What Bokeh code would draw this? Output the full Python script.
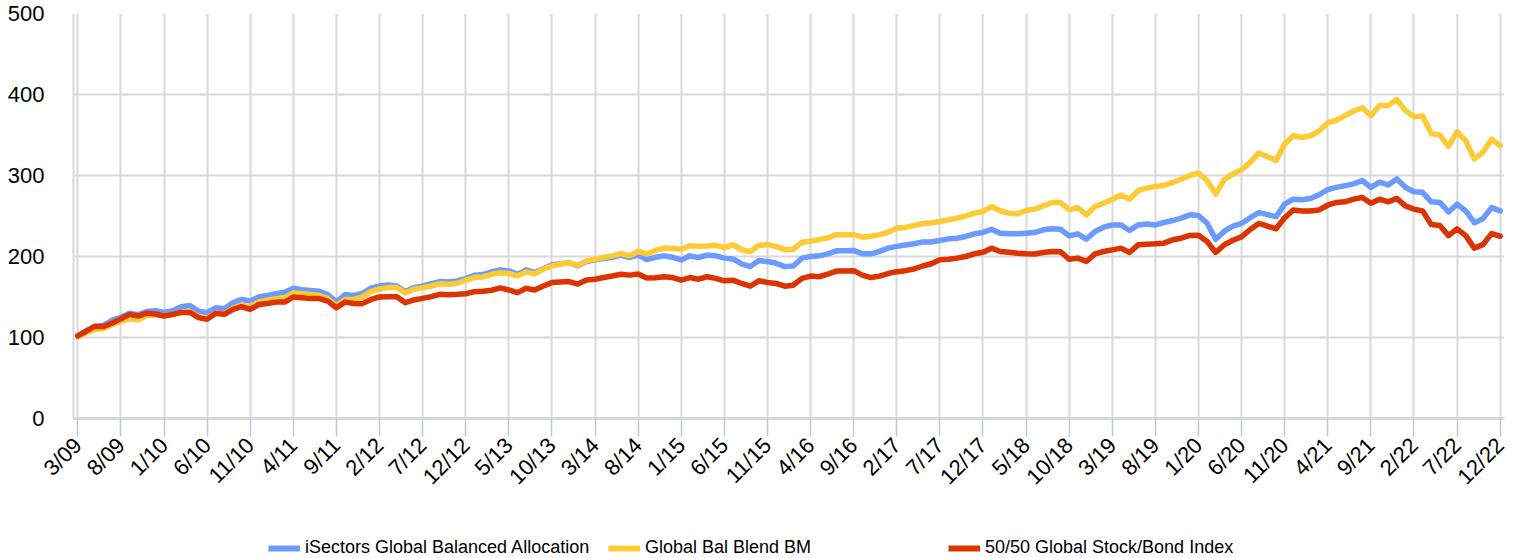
from bokeh.plotting import figure
from bokeh.layouts import column
from bokeh.models import FixedTicker, Range1d, Legend, LegendItem
from bokeh.embed import file_html
from bokeh.resources import INLINE
import math

# ---------------- data ----------------
start_month = 3
start_year = 2009
n_months = 166
months = list(range(n_months))
month_labels = []
for i in months:
    m = (start_month - 1 + i) % 12 + 1
    y = start_year + (start_month - 1 + i) // 12
    month_labels.append(f"{m}/{y % 100:02d}")
tick_months = list(range(0, n_months, 5))

isectors = [102, 108, 113, 115, 121.6, 125, 130, 128, 132, 133, 131, 133, 138, 139.6, 132.6, 130.6, 136.7, 135.5,
            142.9, 147, 145, 150, 151.8, 154, 156, 160.8, 159, 158, 157, 153, 143.7, 153, 152, 154.3,
            161, 163.6, 164.9, 163.6, 156.6, 161.6, 163.6, 166.5, 169, 168.6, 169.8, 172.7, 176.9, 177.7, 181,
            183.5, 182.2, 178, 183.5, 180.2, 185, 189.7, 191, 192.6, 188.4, 193.8, 195.9, 197.5, 199, 201.7,
            198.8, 201.8, 196.3,
            199, 200.8, 199, 195.8, 200.8, 198.8, 201.7, 200.8, 198, 197, 190.8, 187.5, 195, 193.8, 191.7,
            187.5, 188.3, 198, 200, 200.8, 203.3, 207, 207, 207.5, 203.3, 203.3, 206.3, 210.4, 212.5, 214.2,
            215.8, 218, 218,
            219.8, 221.8, 222.6, 224.7, 228, 229.6, 233.7, 228.8, 228, 228, 228.8, 229.6, 233, 234.2, 233.7,
            225.5, 228, 221.4, 230.9, 236.2, 239, 239, 232.1, 239, 240, 239, 242, 244.4, 247.3, 251.4, 250.6,
            241, 221.2,
            231.3, 237.5, 240.8, 247.9, 254.2, 251.7, 249.2, 264.6, 270.8, 270, 271.7, 276.3, 282.5, 285.4,
            287.5, 289.6, 293.8, 285.4, 291.7, 288.3, 295.8, 285.4, 280, 279.2, 267.5, 266.7, 255, 264.6,
            256.3, 241.7, 246.7, 260.4, 256.3]

blend_bm = [101, 106, 110, 111, 116, 120, 123, 122, 127, 128, 127, 128, 131, 132, 126, 124, 130, 129, 136, 140,
            138, 144, 146, 148, 149, 155, 154, 153, 152, 148, 139, 147, 147, 150,
            157, 160, 161.6, 161.6, 155, 159.5, 161.6, 163.6, 166.5, 165.7, 167, 170.7, 174, 174.8, 178, 180,
            179, 176, 181, 178.5, 184.3, 188.4, 190.5, 192.6, 189, 194.6, 196.7, 198.8, 200.8, 203.7, 200.8,
            206.5, 203,
            207.5, 210.4, 210, 209, 213.3, 212.5, 213, 213.8, 211, 214.6, 208.3, 206, 213.8, 214.6, 212.5,
            208.3, 209, 217.5, 218.8, 220.8, 223, 227, 227, 227, 223.8, 225, 227, 230, 235, 235.8, 238.3,
            240.8, 241.3,
            243.2, 245.3, 247.3, 250.2, 253.5, 255.6, 261.7, 256.4, 253.5, 252.7, 256.8, 258.4, 262.5, 266.7,
            266.7, 257.6, 260.5, 251.4, 261.7, 265.8, 270.8, 276, 270.8, 281.5, 284.4, 286.4, 287.7, 291.4,
            295.5, 300, 302.9, 293.8, 277,
            295, 302, 307.3, 316.3, 327.8, 323.3, 318.4, 338.8, 349, 347, 349, 355, 365.3, 368, 374, 379.6,
            383.7, 374, 386.5, 386.5, 393.9, 380.4, 372.6, 373.5, 351.8, 349.8, 335.9, 354.3, 342.9, 320.4,
            328.6, 344.9, 336.7]

stock_bond = [102, 108, 114, 113.5, 118, 123, 128.6, 126.5, 130, 129, 126.5, 128.6, 131, 131, 124.5, 122.4,
              129.8, 128.6, 134.7, 138, 134.7, 140.8, 142, 143.7, 143.7, 150, 149, 148, 148, 145, 136.7, 143.7,
              142, 141.8,
              147, 150, 150.4, 150.4, 143, 146.3, 148.3, 150.4, 153.3, 152.9, 153.3, 154, 156.6, 157, 158.3,
              161.2, 158.7, 155.4, 160.7, 158.7, 163.6, 167.8, 168.6, 169, 166, 171, 172, 174, 176, 178, 177,
              178.4, 173.5,
              173.8, 175, 174, 170.8, 174, 172, 175, 173, 170, 170.8, 166.7, 163.3, 170, 168, 166.7, 163.3,
              164.6, 173, 175.8, 175, 178.3, 182, 182, 182.5, 177, 174, 175.8, 179, 181.3, 182.5, 184.6, 188.3,
              191,
              196, 196.7, 198, 200, 203.3, 205.3, 210.3, 206.2, 205.3, 204, 203.3, 203, 205, 206.2, 205.8,
              196.7, 198, 193.8, 203.3, 206.2, 208.2, 210.3, 205, 214.4, 215.2, 215.6, 216.5, 220.6, 222.6,
              226, 226.3, 218.5, 205,
              214.6, 220, 224.2, 233.3, 240.8, 237.5, 234.2, 247.9, 257.5, 256.3, 256.3, 257.5, 263.3, 266.7,
              267.5, 270.8, 272.9, 265.8, 270.8, 267.5, 271.7, 262.5, 258.3, 256.3, 239.6, 238.3, 225.8, 234.2,
              225.8, 210.4, 214.6, 228.3, 225]

series_names = ["iSectors Global Balanced Allocation", "Global Bal Blend BM", "50/50 Global Stock/Bond Index"]
y_ticks = [0, 100, 200, 300, 400, 500]

# ---------------- styling ----------------
colors = ["#6b9bff", "#ffcb35", "#dd3300"]
FONT = "Liberation Sans"
GRID = "#d9d9d9"
W = 1516

p = figure(width=W, height=528, output_backend="svg", toolbar_location=None,
           x_range=Range1d(-0.5, 165.5), y_range=Range1d(0, 500),
           min_border_left=73, min_border_right=12, min_border_top=13, min_border_bottom=110)
p.outline_line_color = None
p.background_fill_color = "white"

# grids
p.xgrid.ticker = FixedTicker(ticks=tick_months)
p.ygrid.ticker = FixedTicker(ticks=y_ticks)
p.xgrid.grid_line_color = GRID
p.ygrid.grid_line_color = GRID
p.xgrid.grid_line_width = 2
p.ygrid.grid_line_width = 2

# x axis
xa = p.xaxis[0]
xa.ticker = FixedTicker(ticks=tick_months)
xa.major_label_overrides = {i: month_labels[i] for i in tick_months}
xa.major_label_orientation = math.pi / 4
xa.major_label_text_font = FONT
xa.major_label_text_font_size = "22px"
xa.major_label_text_color = "#000000"
xa.axis_line_color = GRID
xa.axis_line_width = 3
xa.major_tick_line_color = "#b8cce4"
xa.major_tick_line_width = 1.5
xa.major_tick_out = 18
xa.major_tick_in = 0
xa.minor_tick_line_color = None
xa.major_label_standoff = 5

# y axis
ya = p.yaxis[0]
ya.ticker = FixedTicker(ticks=y_ticks)
ya.major_label_text_font = FONT
ya.major_label_text_font_size = "22px"
ya.major_label_text_color = "#000000"
ya.major_label_standoff = 29
ya.axis_line_color = GRID
ya.axis_line_width = 2
ya.major_tick_line_color = None
ya.major_tick_out = 0
ya.major_tick_in = 0
ya.minor_tick_line_color = None

for vals, c in zip([isectors, blend_bm, stock_bond], colors):
    p.line(months, vals, line_color=c, line_width=5.5, line_join="round", line_cap="round")

# legend strip (own small figure, frame aligned with the main one)
lg = figure(width=W, height=30, output_backend="svg", toolbar_location=None,
            x_range=Range1d(0, 1), y_range=Range1d(0, 1), x_axis_type=None, y_axis_type=None,
            min_border_left=0, min_border_right=0, min_border_top=0, min_border_bottom=0)
lg.outline_line_color = None
lg.xgrid.visible = False
lg.ygrid.visible = False
# swatch renderers: points lie outside the strip's ranges, so only the legend shows them
swatches = [lg.line([5, 6], [5, 6], line_color=c, line_width=6) for c in colors]
legend = Legend(items=[LegendItem(label=n, renderers=[r]) for n, r in zip(series_names, swatches)],
                orientation="horizontal", location=(195, 0),
                glyph_width=32, glyph_height=20, label_standoff=5, label_width=293, spacing=10,
                label_text_font=FONT, label_text_font_size="18px", label_text_color="#000000",
                padding=0, margin=0, border_line_alpha=0, background_fill_alpha=0)
lg.add_layout(legend)

layout = column(p, lg, spacing=0)
open("out.html", "w").write(file_html(layout, INLINE))
